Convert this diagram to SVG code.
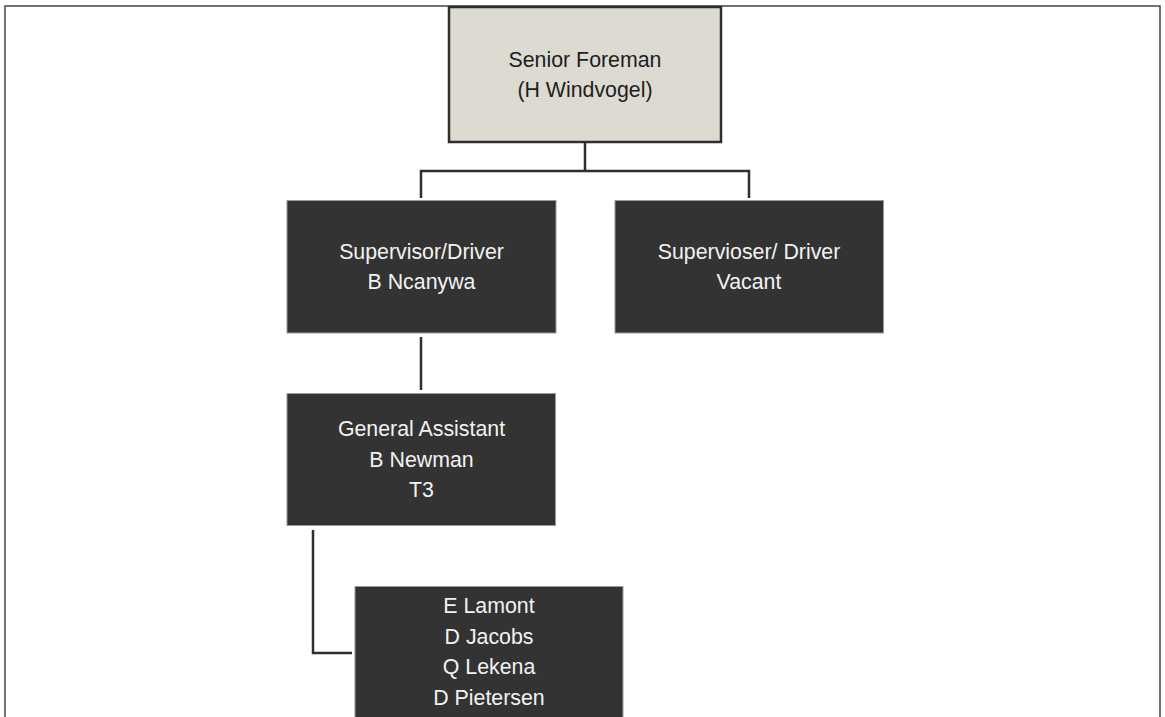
<svg xmlns="http://www.w3.org/2000/svg" width="1165" height="717" viewBox="0 0 1165 717">
  <style>
    .frame { fill: none; stroke: #454545; stroke-width: 1.5; }
    .link { fill: none; stroke: #2e2e2e; stroke-width: 2.5; }
    .head { fill: #dddad2; stroke: #2e2e2e; stroke-width: 2.5; }
    .dark { fill: #333333; stroke: #9a9a9a; stroke-width: 1; }
    text { font-family: "Liberation Sans", Arial, sans-serif; font-size: 21.33px; text-anchor: middle; }
    .lt { fill: #f2f2f2; }
    .dk { fill: #1e1e1e; }
  </style>

  <rect x="0" y="0" width="1165" height="717" fill="#ffffff"/>

  <!-- page frame, open at the bottom -->
  <path class="frame" d="M5,717 V6 H1160 V717"/>

  <!-- connectors -->
  <g id="connectors">
    <path class="link" d="M585,143 V171"/>
    <path class="link" d="M421,198 V171 H749 V198"/>
    <path class="link" d="M421,337 V390"/>
    <path class="link" d="M313,530 V653 H352"/>
  </g>

  <g id="senior-foreman">
    <rect class="head" x="449" y="7" width="272" height="135"/>
    <text class="dk" x="585" y="67">Senior Foreman</text>
    <text class="dk" x="585" y="97">(H Windvogel)</text>
  </g>

  <g id="supervisor-ncanywa">
    <rect class="dark" x="287" y="200.5" width="269" height="132.5"/>
    <text class="lt" x="421.5" y="259">Supervisor/Driver</text>
    <text class="lt" x="421.5" y="289">B Ncanywa</text>
  </g>

  <g id="supervisor-vacant">
    <rect class="dark" x="615" y="200.5" width="268.5" height="132.5"/>
    <text class="lt" x="749" y="259">Supervioser/ Driver</text>
    <text class="lt" x="749" y="289">Vacant</text>
  </g>

  <g id="general-assistant">
    <rect class="dark" x="287" y="393.5" width="268.5" height="132"/>
    <text class="lt" x="421.5" y="436">General Assistant</text>
    <text class="lt" x="421.5" y="467">B Newman</text>
    <text class="lt" x="421.5" y="497">T3</text>
  </g>

  <g id="workers">
    <rect class="dark" x="355" y="586.5" width="268" height="135"/>
    <text class="lt" x="489" y="613">E Lamont</text>
    <text class="lt" x="489" y="644">D Jacobs</text>
    <text class="lt" x="489" y="674">Q Lekena</text>
    <text class="lt" x="489" y="705">D Pietersen</text>
  </g>
</svg>
